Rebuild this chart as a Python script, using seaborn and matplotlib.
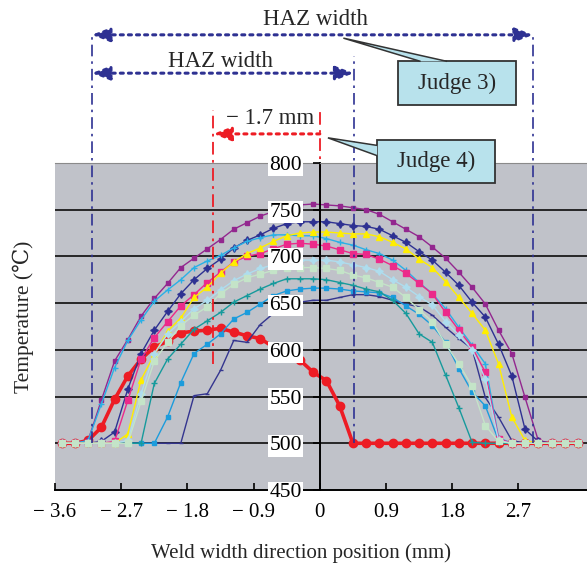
import matplotlib
matplotlib.use("Agg")
import matplotlib.pyplot as plt
from matplotlib.patches import Rectangle, Polygon
import seaborn as sns

"""
Temperature distribution across the weld width with HAZ judgement marks
"""

# sample positions across the weld (mm)
positions = [-3.51, -3.33, -3.15, -2.97, -2.79, -2.61, -2.43, -2.25, -2.07, -1.89,
             -1.71, -1.53, -1.35, -1.17, -0.99, -0.81, -0.63, -0.45, -0.27, -0.09,
             0.09, 0.27, 0.45, 0.63, 0.81, 0.99, 1.17, 1.35, 1.53, 1.71,
             1.89, 2.07, 2.25, 2.43, 2.61, 2.79, 2.97, 3.15, 3.33, 3.51]

temp_red = [500, 500, 503, 517, 547, 572, 590, 603, 609, 618, 620, 621, 623, 619, 615, 612, 603, 596, 589, 576,
            567, 540, 500, 500, 500, 500, 500, 500, 500, 500, 500, 500, 500, 500, 500, 500, 500, 500, 500, 500]
temp_purple = [500, 500, 503, 546, 588, 611, 636, 655, 671, 688, 698, 708, 718, 729, 736, 743, 748, 752, 755, 756,
               755, 754, 752, 750, 745, 737, 729, 721, 710, 698, 683, 667, 649, 621, 596, 549, 503, 500, 500, 500]
temp_navy = [500, 500, 500, 502, 512, 558, 596, 621, 641, 660, 675, 687, 697, 709, 717, 723, 730, 735, 737, 737,
             737, 735, 733, 732, 729, 722, 715, 705, 696, 683, 669, 651, 635, 606, 572, 515, 502, 500, 500, 500]
temp_yellow = [500, 500, 500, 500, 500, 510, 568, 595, 620, 634, 656, 667, 682, 694, 703, 709, 716, 722, 725, 726,
               726, 725, 724, 724, 721, 715, 708, 697, 688, 673, 656, 639, 621, 585, 528, 503, 500, 500, 500, 500]
temp_sky = [500, 500, 503, 542, 581, 610, 632, 652, 664, 675, 688, 695, 701, 709, 716, 720, 723, 723, 722, 722,
            719, 715, 712, 707, 703, 696, 685, 672, 660, 644, 624, 605, 585, 506, 500, 500, 500, 500, 500, 500]
temp_pink = [500, 500, 500, 500, 502, 546, 590, 613, 630, 647, 659, 672, 683, 694, 700, 703, 708, 713, 714, 713,
             711, 707, 703, 702, 697, 690, 682, 671, 660, 640, 621, 603, 576, 505, 500, 500, 500, 500, 500, 500]
temp_lightblue = [500, 500, 500, 500, 500, 503, 553, 596, 617, 630, 644, 653, 664, 674, 681, 687, 691, 694, 696, 696,
                  696, 694, 691, 688, 684, 675, 667, 657, 648, 630, 616, 600, 569, 503, 500, 500, 500, 500, 500, 500]
temp_palegreen = [500, 500, 500, 500, 500, 500, 545, 588, 608, 626, 637, 646, 660, 670, 677, 681, 685, 687, 688, 688,
                  687, 685, 680, 677, 672, 667, 656, 643, 630, 606, 585, 561, 519, 502, 500, 500, 500, 500, 500, 500]
temp_teal = [500, 500, 500, 500, 500, 500, 500, 564, 590, 606, 622, 631, 640, 651, 658, 665, 671, 676, 676, 676,
             675, 672, 669, 665, 662, 653, 639, 617, 608, 573, 538, 501, 500, 500, 500, 500, 500, 500, 500, 500]
temp_cyan = [500, 500, 500, 500, 500, 500, 500, 500, 528, 565, 596, 606, 617, 633, 640, 649, 658, 663, 665, 666,
             666, 665, 663, 662, 661, 656, 647, 638, 626, 608, 580, 555, 540, 503, 500, 500, 500, 500, 500, 500]
temp_thinnavy = [500, 500, 500, 500, 500, 500, 500, 500, 500, 500, 551, 553, 578, 610, 608, 627, 639, 646, 651, 653,
                 653, 656, 659, 659, 657, 653, 649, 646, 637, 624, 612, 601, 549, 528, 503, 500, 500, 500, 500, 500]

x_ticks = [-3.6, -2.7, -1.8, -0.9, 0, 0.9, 1.8, 2.7]
x_tick_labels = ["\u2212 3.6", "\u2212 2.7", "\u2212 1.8", "\u2212 0.9", "0", "0.9", "1.8", "2.7"]
y_ticks = [450, 500, 550, 600, 650, 700, 750, 800]
grid_levels = [500, 550, 600, 650, 700, 750]

# judgement marks (mm)
haz_left, haz_mid, haz_right = -3.1, 0.46, 2.9
peak_left, peak_right = -1.45, 0.0

BLUE = "#2E3192"
RED = "#ED1C24"
BOX = "#B8E2EC"

# (values, color, marker, markersize, linewidth)
series = [
    (temp_red, RED, "o", 6, 2.6),
    (temp_thinnavy, "#34358F", "_", 3.5, 1.0),
    (temp_cyan, "#1C9CDC", "s", 2.5, 1.0),
    (temp_teal, "#169A9C", "+", 4, 1.0),
    (temp_purple, "#93278F", "s", 2.5, 1.0),
    (temp_navy, "#2E3192", (4, 1, 0), 5.5, 1.0),
    (temp_sky, "#29B0E6", "+", 4.5, 1.0),
    (temp_pink, "#EC2A8A", "s", 3.8, 1.0),
    (temp_yellow, "#FFEE00", "^", 4.8, 1.0),
    (temp_lightblue, "#AEDDEE", (4, 1, 0), 5.5, 1.0),
    (temp_palegreen, "#C4E4C8", "s", 3.8, 1.0),
]

sns.set_theme(style="white")
plt.rcParams["font.family"] = ["Liberation Serif", "DejaVu Serif", "DejaVu Sans"]

fig = plt.figure(figsize=(5.87, 5.64), dpi=100)
ax = fig.add_axes([0.0937, 0.1312, 0.906, 0.580])
ax.set_facecolor("#C0C2C9")

for level in grid_levels:
    ax.axhline(level, color="#1a1a1a", lw=1.3, zorder=1)

for k, (vals, color, marker, ms, lw) in enumerate(series):
    sns.lineplot(x=positions, y=vals, ax=ax, color=color, marker=marker, markersize=ms,
                 markeredgecolor=color, markeredgewidth=1.0, linewidth=lw,
                 estimator=None, sort=False, zorder=2 + 0.01 * k)

ax.set_xlim(-3.6, 3.63)
ax.set_ylim(450, 800)
ax.set_xticks(x_ticks, x_tick_labels)
ax.set_yticks(y_ticks, [str(v) for v in y_ticks])

ax.spines["left"].set_position(("data", 0))
ax.spines["left"].set_color("black")
ax.spines["left"].set_linewidth(1.4)
ax.spines["bottom"].set_color("black")
ax.spines["bottom"].set_linewidth(1.4)
ax.spines["right"].set_visible(False)
ax.spines["top"].set_color("#8a8a8a")
ax.spines["top"].set_linewidth(0.8)

ax.tick_params(axis="x", direction="in", length=5, width=1.2, pad=9, labelsize=15, colors="black", bottom=True)
ax.tick_params(axis="y", direction="out", length=5, width=1.2, pad=8, labelsize=15.5, colors="black", left=True)
for lab in ax.get_yticklabels():
    lab.set_bbox(dict(facecolor="white", edgecolor="none", pad=1.0))
ax.yaxis.set_zorder(5)

ax.set_xlabel("Weld width direction position (mm)", fontsize=15)
ax.xaxis.set_label_coords(0.462, -0.162)
ax.set_ylabel("Temperature (\u2103)", fontsize=15.5)
ax.yaxis.set_label_coords(-0.04, 0.53)

# HAZ boundaries and widths
dashdot = (0, (7, 3, 1.5, 3))
for x0, top in [(haz_left, 937), (haz_mid, 914), (haz_right, 937)]:
    ax.plot([x0, x0], [500, top], color=BLUE, lw=1.2, ls=dashdot, clip_on=False, zorder=2.4)
for y0, x1 in [(937, haz_right), (896, haz_mid)]:
    ax.annotate("", xy=(x1, y0), xytext=(haz_left, y0), annotation_clip=False,
                arrowprops=dict(arrowstyle="<|-|>,head_length=0.9,head_width=0.35", color=BLUE,
                                lw=2.2, ls=":", shrinkA=0, shrinkB=0))
ax.text(-0.06, 953, "HAZ width", ha="center", va="center", fontsize=16.5, clip_on=False)
ax.text(-1.35, 908, "HAZ width", ha="center", va="center", fontsize=16.5, clip_on=False)

# peak shift
ax.plot([peak_left, peak_left], [585, 857], color=RED, lw=1.3, ls=dashdot, clip_on=False, zorder=2.4)
ax.plot([peak_right, peak_right], [645, 857], color=RED, lw=1.3, ls=dashdot, clip_on=False, zorder=2.4)
ax.annotate("", xy=(peak_left, 831), xytext=(peak_right, 831), annotation_clip=False,
            arrowprops=dict(arrowstyle="-|>,head_length=0.9,head_width=0.35", color=RED,
                            lw=2.2, ls=":", shrinkA=0, shrinkB=0))
ax.text(-0.67, 848, "\u2212 1.7 mm", ha="center", va="center", fontsize=16.5, clip_on=False)

# callouts
for (x0, x1, y0, y1), label, tip, base in [
    ((1.06, 2.67, 861.5, 908.6), "Judge 3)", (0.32, 933.5), [(1.37, 908.6), (1.73, 908.6)]),
    ((0.78, 2.38, 778.6, 825.0), "Judge 4)", (0.11, 826.8), [(0.78, 818.7), (0.78, 807.7)]),
]:
    ax.add_patch(Rectangle((x0, y0), x1 - x0, y1 - y0, facecolor=BOX, edgecolor="#333333",
                           lw=1.3, clip_on=False, zorder=10))
    ax.add_patch(Polygon([base[0], tip, base[1]], closed=False, facecolor=BOX, edgecolor="#333333",
                         lw=1.1, clip_on=False, zorder=10.5))
    ax.text((x0 + x1) / 2, (y0 + y1) / 2, label, ha="center", va="center", fontsize=16.5,
            clip_on=False, zorder=11)

fig.savefig("out.png", dpi=100)
